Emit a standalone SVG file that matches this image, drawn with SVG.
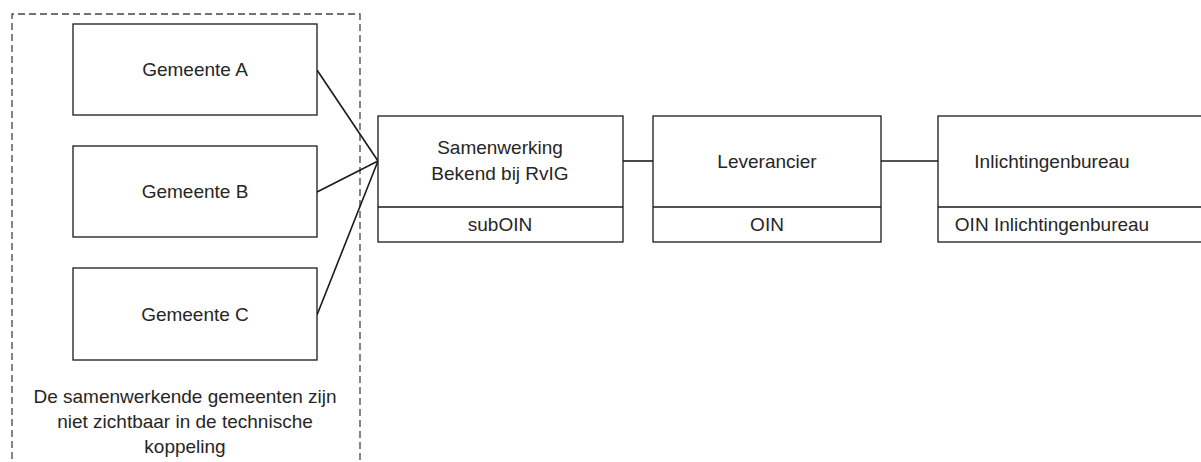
<svg xmlns="http://www.w3.org/2000/svg" width="1201" height="462" viewBox="0 0 1201 462">
<style>
.box{fill:#fff;stroke:#1a1a1a;stroke-width:1.3}
.t{font-family:"Liberation Sans",Arial,sans-serif;font-size:19px;fill:#262626;text-anchor:middle}
.c{stroke:#1a1a1a;stroke-width:1.6;fill:none}
.dash{fill:none;stroke:#444;stroke-width:1.3;stroke-dasharray:7 4}
</style>
<rect width="1201" height="462" fill="#fff"/>
<g id="group-container">
<path class="dash" d="M12,470 V14 H360 V470"/>
<text class="t" x="185" y="403">De samenwerkende gemeenten zijn</text>
<text class="t" x="185" y="428">niet zichtbaar in de technische</text>
<text class="t" x="185" y="453">koppeling</text>
</g>
<g id="connectors">
<line class="c" x1="317" y1="70" x2="378" y2="161"/>
<line class="c" x1="317" y1="192" x2="378" y2="161"/>
<line class="c" x1="317" y1="315" x2="378" y2="161"/>
<line class="c" x1="623" y1="161" x2="653" y2="161"/>
<line class="c" x1="881" y1="161" x2="938" y2="161"/>
</g>
<g id="gemeente-a">
<rect class="box" x="73" y="24" width="244" height="91"/>
<text class="t" x="195" y="76">Gemeente A</text>
</g>
<g id="gemeente-b">
<rect class="box" x="73" y="146" width="244" height="91"/>
<text class="t" x="195" y="198">Gemeente B</text>
</g>
<g id="gemeente-c">
<rect class="box" x="73" y="268" width="244" height="92"/>
<text class="t" x="195" y="321">Gemeente C</text>
</g>
<g id="samenwerking">
<rect class="box" x="378" y="116" width="245" height="126"/>
<line class="box" x1="378" y1="207" x2="623" y2="207"/>
<text class="t" x="500" y="154">Samenwerking</text>
<text class="t" x="500" y="180">Bekend bij RvIG</text>
<text class="t" x="500" y="231">subOIN</text>
</g>
<g id="leverancier">
<rect class="box" x="653" y="116" width="228" height="126"/>
<line class="box" x1="653" y1="207" x2="881" y2="207"/>
<text class="t" x="767" y="168">Leverancier</text>
<text class="t" x="767" y="231">OIN</text>
</g>
<g id="inlichtingenbureau">
<rect class="box" x="938" y="116" width="280" height="126"/>
<line class="box" x1="938" y1="207" x2="1218" y2="207"/>
<text class="t" x="1052" y="168">Inlichtingenbureau</text>
<text class="t" x="1052" y="231">OIN Inlichtingenbureau</text>
</g>
</svg>
